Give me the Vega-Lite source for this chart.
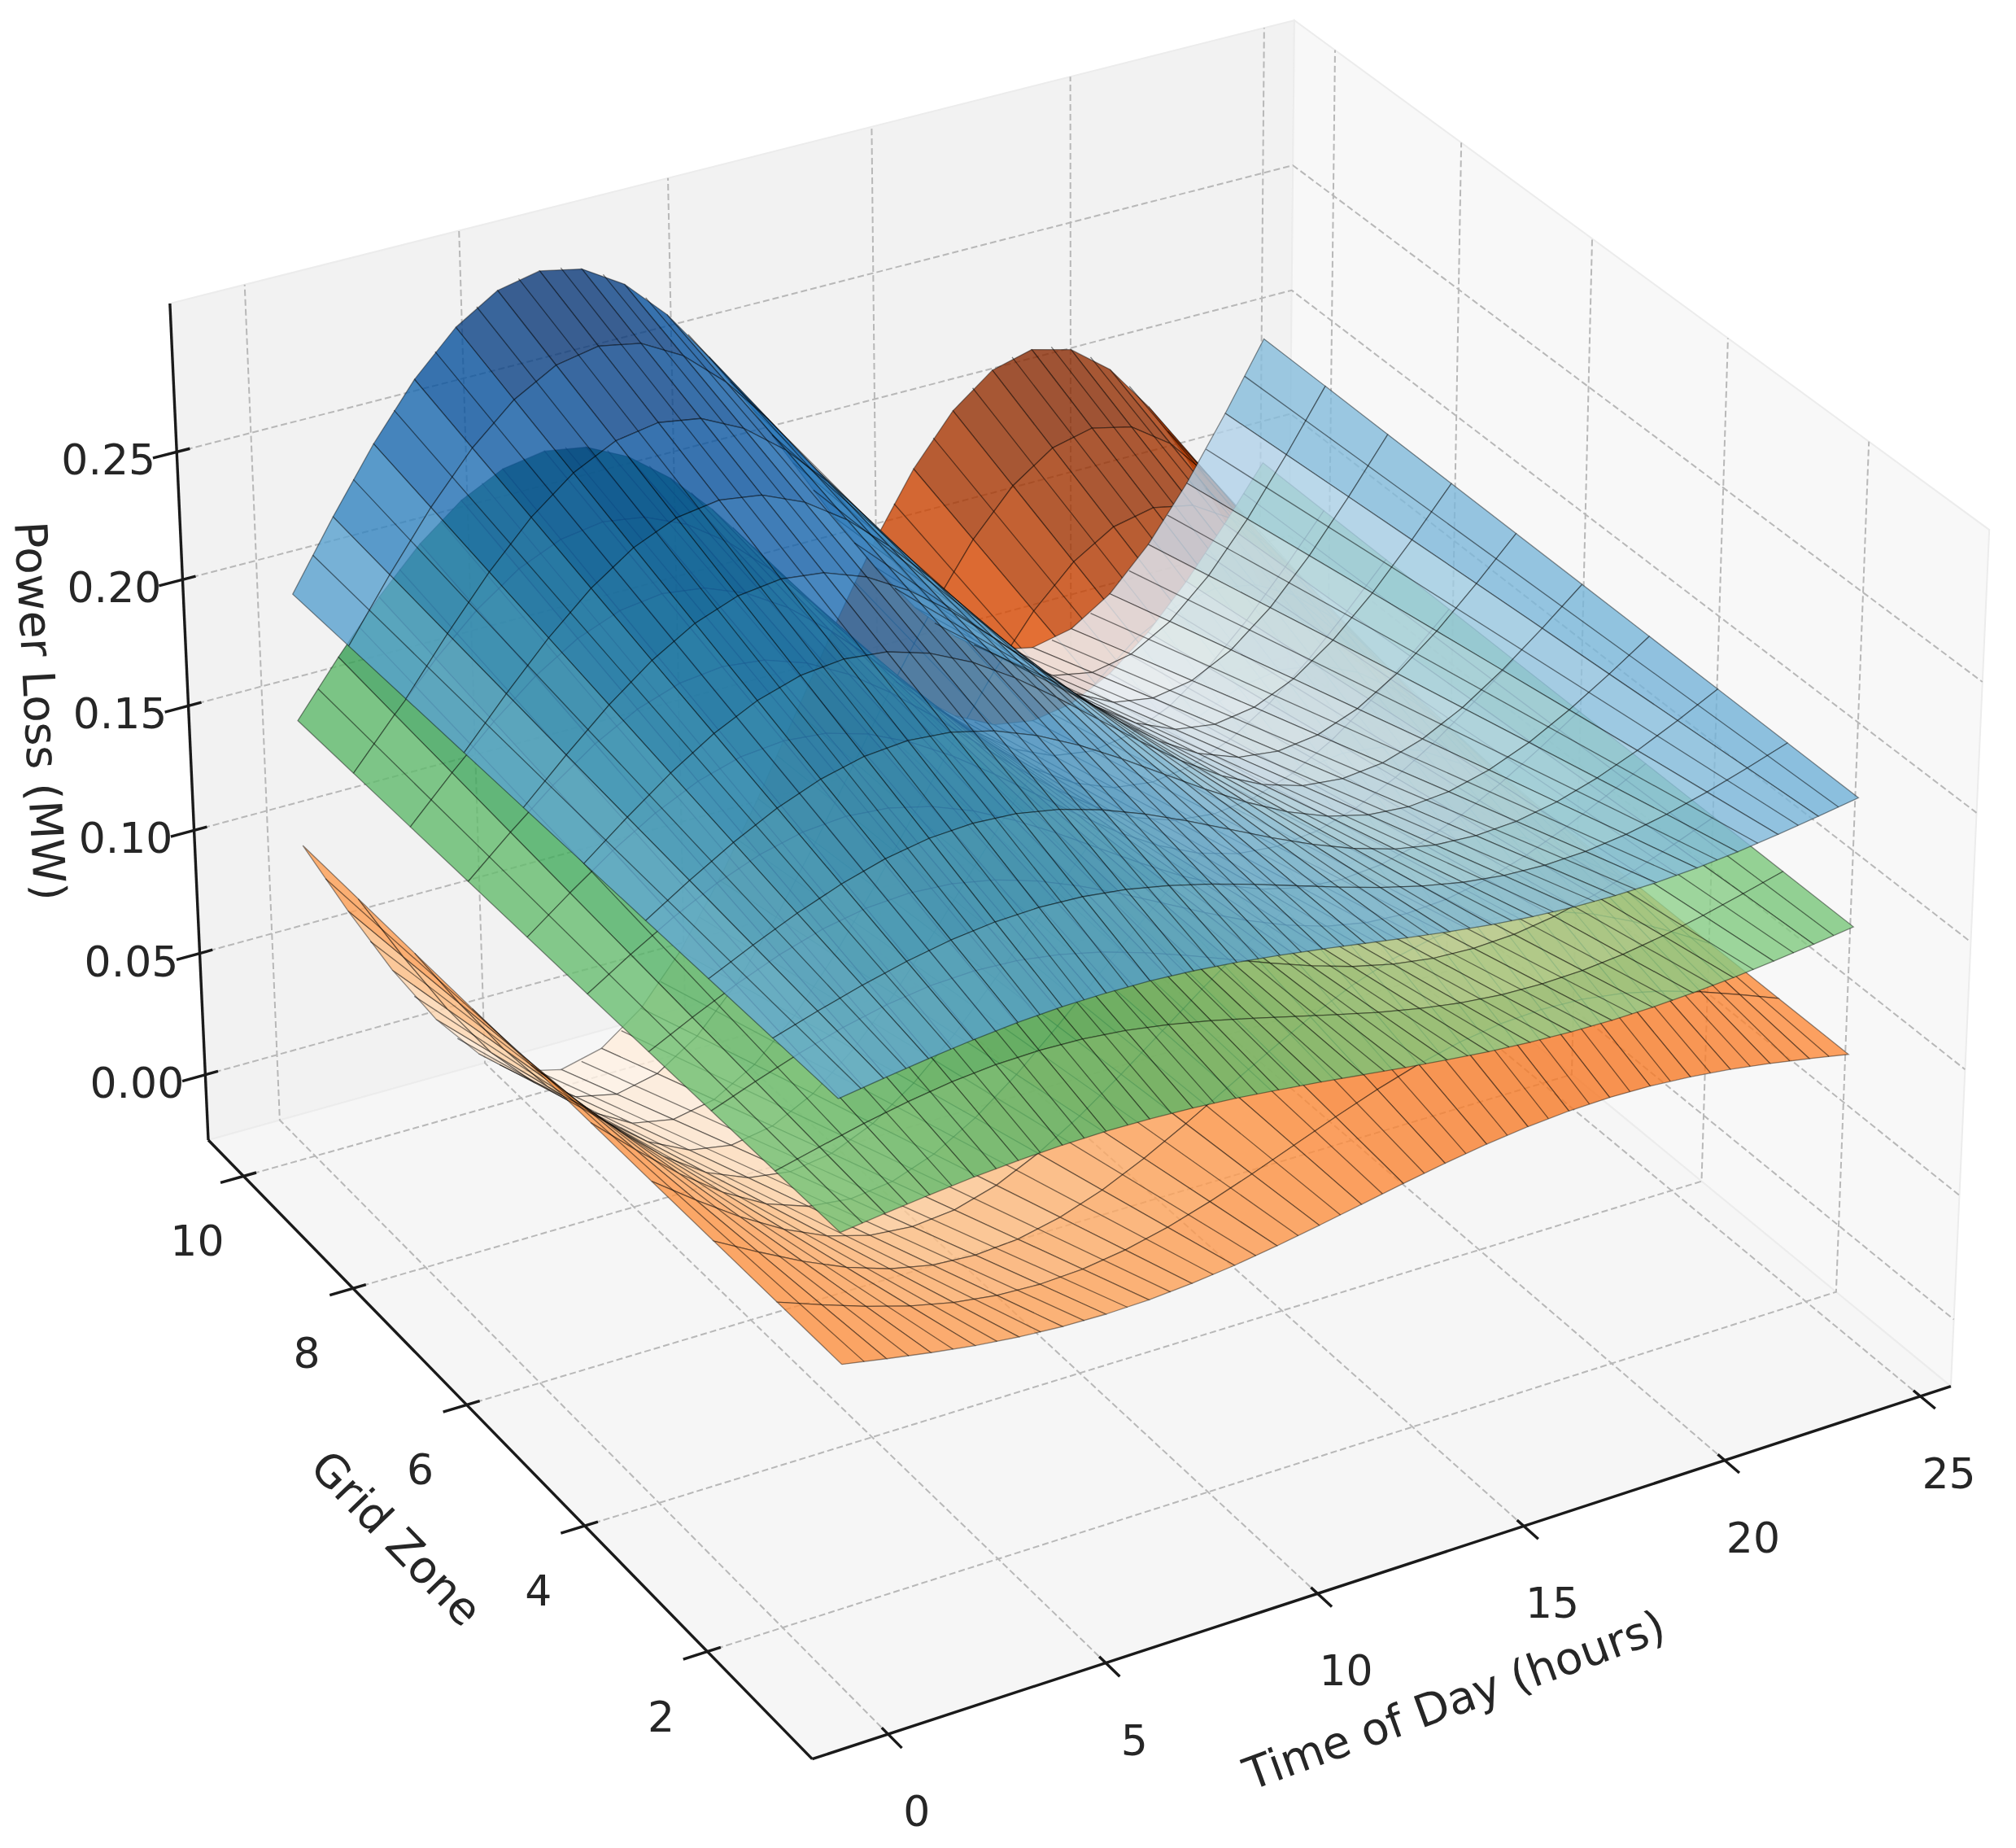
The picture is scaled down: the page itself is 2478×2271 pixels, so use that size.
{"$schema":"https://vega.github.io/schema/vega-lite/v6.json","width":2478,"height":2271,"autosize":{"type":"fit","contains":"padding"},"padding":0,"background":"white","config":{"view":{"stroke":null}},
"datasets":{
"panes":[{"p":"left","o":0,"t":-1.713,"z":10.66,"l":-0.02716},{"p":"left","o":1,"t":25.79,"z":10.66,"l":-0.02716},{"p":"left","o":2,"t":25.79,"z":10.66,"l":0.3073},{"p":"left","o":3,"t":-1.713,"z":10.66,"l":0.3073},{"p":"left","o":4,"t":-1.713,"z":10.66,"l":-0.02716},
{"p":"right","o":0,"t":25.79,"z":0.3505,"l":-0.02716},{"p":"right","o":1,"t":25.79,"z":10.66,"l":-0.02716},{"p":"right","o":2,"t":25.79,"z":10.66,"l":0.3073},{"p":"right","o":3,"t":25.79,"z":0.3505,"l":0.3073},{"p":"right","o":4,"t":25.79,"z":0.3505,"l":-0.02716},
{"p":"floor","o":0,"t":-1.713,"z":0.3505,"l":-0.02716},{"p":"floor","o":1,"t":25.79,"z":0.3505,"l":-0.02716},{"p":"floor","o":2,"t":25.79,"z":10.66,"l":-0.02716},{"p":"floor","o":3,"t":-1.713,"z":10.66,"l":-0.02716},{"p":"floor","o":4,"t":-1.713,"z":0.3505,"l":-0.02716}],
"grid":[{"id":"t0","o":0,"t":0,"z":0.3505,"l":-0.02716},{"id":"t0","o":1,"t":0,"z":10.66,"l":-0.02716},{"id":"t0","o":2,"t":0,"z":10.66,"l":0.3073},
{"id":"t5","o":0,"t":5,"z":0.3505,"l":-0.02716},{"id":"t5","o":1,"t":5,"z":10.66,"l":-0.02716},{"id":"t5","o":2,"t":5,"z":10.66,"l":0.3073},
{"id":"t10","o":0,"t":10,"z":0.3505,"l":-0.02716},{"id":"t10","o":1,"t":10,"z":10.66,"l":-0.02716},{"id":"t10","o":2,"t":10,"z":10.66,"l":0.3073},
{"id":"t15","o":0,"t":15,"z":0.3505,"l":-0.02716},{"id":"t15","o":1,"t":15,"z":10.66,"l":-0.02716},{"id":"t15","o":2,"t":15,"z":10.66,"l":0.3073},
{"id":"t20","o":0,"t":20,"z":0.3505,"l":-0.02716},{"id":"t20","o":1,"t":20,"z":10.66,"l":-0.02716},{"id":"t20","o":2,"t":20,"z":10.66,"l":0.3073},
{"id":"t25","o":0,"t":25,"z":0.3505,"l":-0.02716},{"id":"t25","o":1,"t":25,"z":10.66,"l":-0.02716},{"id":"t25","o":2,"t":25,"z":10.66,"l":0.3073},
{"id":"z2","o":0,"t":-1.713,"z":2,"l":-0.02716},{"id":"z2","o":1,"t":25.79,"z":2,"l":-0.02716},{"id":"z2","o":2,"t":25.79,"z":2,"l":0.3073},
{"id":"z4","o":0,"t":-1.713,"z":4,"l":-0.02716},{"id":"z4","o":1,"t":25.79,"z":4,"l":-0.02716},{"id":"z4","o":2,"t":25.79,"z":4,"l":0.3073},
{"id":"z6","o":0,"t":-1.713,"z":6,"l":-0.02716},{"id":"z6","o":1,"t":25.79,"z":6,"l":-0.02716},{"id":"z6","o":2,"t":25.79,"z":6,"l":0.3073},
{"id":"z8","o":0,"t":-1.713,"z":8,"l":-0.02716},{"id":"z8","o":1,"t":25.79,"z":8,"l":-0.02716},{"id":"z8","o":2,"t":25.79,"z":8,"l":0.3073},
{"id":"z10","o":0,"t":-1.713,"z":10,"l":-0.02716},{"id":"z10","o":1,"t":25.79,"z":10,"l":-0.02716},{"id":"z10","o":2,"t":25.79,"z":10,"l":0.3073},
{"id":"l0","o":0,"t":-1.713,"z":10.66,"l":0},{"id":"l0","o":1,"t":25.79,"z":10.66,"l":0},{"id":"l0","o":2,"t":25.79,"z":0.3505,"l":0},
{"id":"l5","o":0,"t":-1.713,"z":10.66,"l":0.05},{"id":"l5","o":1,"t":25.79,"z":10.66,"l":0.05},{"id":"l5","o":2,"t":25.79,"z":0.3505,"l":0.05},
{"id":"l10","o":0,"t":-1.713,"z":10.66,"l":0.1},{"id":"l10","o":1,"t":25.79,"z":10.66,"l":0.1},{"id":"l10","o":2,"t":25.79,"z":0.3505,"l":0.1},
{"id":"l15","o":0,"t":-1.713,"z":10.66,"l":0.15},{"id":"l15","o":1,"t":25.79,"z":10.66,"l":0.15},{"id":"l15","o":2,"t":25.79,"z":0.3505,"l":0.15},
{"id":"l20","o":0,"t":-1.713,"z":10.66,"l":0.2},{"id":"l20","o":1,"t":25.79,"z":10.66,"l":0.2},{"id":"l20","o":2,"t":25.79,"z":0.3505,"l":0.2},
{"id":"l25","o":0,"t":-1.713,"z":10.66,"l":0.25},{"id":"l25","o":1,"t":25.79,"z":10.66,"l":0.25},{"id":"l25","o":2,"t":25.79,"z":0.3505,"l":0.25}],
"spines":[{"id":"sx","o":0,"t":-1.713,"z":0.3505,"l":-0.02716},{"id":"sx","o":1,"t":25.79,"z":0.3505,"l":-0.02716},
{"id":"sz","o":0,"t":-1.713,"z":0.3505,"l":-0.02716},{"id":"sz","o":1,"t":-1.713,"z":10.66,"l":-0.02716},
{"id":"sl","o":0,"t":-1.713,"z":10.66,"l":-0.02716},{"id":"sl","o":1,"t":-1.713,"z":10.66,"l":0.3073},
{"id":"a0","o":0,"t":0,"z":0.14,"l":-0.02716},{"id":"a0","o":1,"t":0,"z":0.45,"l":-0.02716},
{"id":"a5","o":0,"t":5,"z":0.14,"l":-0.02716},{"id":"a5","o":1,"t":5,"z":0.45,"l":-0.02716},
{"id":"a10","o":0,"t":10,"z":0.14,"l":-0.02716},{"id":"a10","o":1,"t":10,"z":0.45,"l":-0.02716},
{"id":"a15","o":0,"t":15,"z":0.14,"l":-0.02716},{"id":"a15","o":1,"t":15,"z":0.45,"l":-0.02716},
{"id":"a20","o":0,"t":20,"z":0.14,"l":-0.02716},{"id":"a20","o":1,"t":20,"z":0.45,"l":-0.02716},
{"id":"a25","o":0,"t":25,"z":0.14,"l":-0.02716},{"id":"a25","o":1,"t":25,"z":0.45,"l":-0.02716},
{"id":"b2","o":0,"t":-2.26,"z":2,"l":-0.02716},{"id":"b2","o":1,"t":-1.41,"z":2,"l":-0.02716},
{"id":"b4","o":0,"t":-2.26,"z":4,"l":-0.02716},{"id":"b4","o":1,"t":-1.41,"z":4,"l":-0.02716},
{"id":"b6","o":0,"t":-2.26,"z":6,"l":-0.02716},{"id":"b6","o":1,"t":-1.41,"z":6,"l":-0.02716},
{"id":"b8","o":0,"t":-2.26,"z":8,"l":-0.02716},{"id":"b8","o":1,"t":-1.41,"z":8,"l":-0.02716},
{"id":"b10","o":0,"t":-2.26,"z":10,"l":-0.02716},{"id":"b10","o":1,"t":-1.41,"z":10,"l":-0.02716},
{"id":"c0","o":0,"t":-2.26,"z":10.66,"l":0},{"id":"c0","o":1,"t":-1.41,"z":10.66,"l":0},
{"id":"c5","o":0,"t":-2.26,"z":10.66,"l":0.05},{"id":"c5","o":1,"t":-1.41,"z":10.66,"l":0.05},
{"id":"c10","o":0,"t":-2.26,"z":10.66,"l":0.1},{"id":"c10","o":1,"t":-1.41,"z":10.66,"l":0.1},
{"id":"c15","o":0,"t":-2.26,"z":10.66,"l":0.15},{"id":"c15","o":1,"t":-1.41,"z":10.66,"l":0.15},
{"id":"c20","o":0,"t":-2.26,"z":10.66,"l":0.2},{"id":"c20","o":1,"t":-1.41,"z":10.66,"l":0.2},
{"id":"c25","o":0,"t":-2.26,"z":10.66,"l":0.25},{"id":"c25","o":1,"t":-1.41,"z":10.66,"l":0.25}],
"tl":[{"a":"t","s":"0","t":0,"z":0.3505,"l":-0.02716},{"a":"t","s":"5","t":5,"z":0.3505,"l":-0.02716},{"a":"t","s":"10","t":10,"z":0.3505,"l":-0.02716},{"a":"t","s":"15","t":15,"z":0.3505,"l":-0.02716},{"a":"t","s":"20","t":20,"z":0.3505,"l":-0.02716},{"a":"t","s":"25","t":25,"z":0.3505,"l":-0.02716},
{"a":"z","s":"2","t":-1.713,"z":2,"l":-0.02716},{"a":"z","s":"4","t":-1.713,"z":4,"l":-0.02716},{"a":"z","s":"6","t":-1.713,"z":6,"l":-0.02716},{"a":"z","s":"8","t":-1.713,"z":8,"l":-0.02716},{"a":"z","s":"10","t":-1.713,"z":10,"l":-0.02716},
{"a":"l","s":"0.00","t":-1.713,"z":10.66,"l":0},{"a":"l","s":"0.05","t":-1.713,"z":10.66,"l":0.05},{"a":"l","s":"0.10","t":-1.713,"z":10.66,"l":0.1},{"a":"l","s":"0.15","t":-1.713,"z":10.66,"l":0.15},{"a":"l","s":"0.20","t":-1.713,"z":10.66,"l":0.2},{"a":"l","s":"0.25","t":-1.713,"z":10.66,"l":0.25},
{"a":"T","s":"Time of Day (hours)","t":12.5,"z":0.3505,"l":-0.02716},{"a":"Z","s":"Grid Zone","t":-1.713,"z":6,"l":-0.02716},{"a":"L","s":"Power Loss (MW)","t":-1.713,"z":10.66,"l":0.125}],
"b":[
{"t":24,"z":10,"l":0.2},{"t":23,"z":10,"l":0.1741},{"t":22,"z":10,"l":0.15},{"t":21,"z":10,"l":0.1293},{"t":20,"z":10,"l":0.1134},{"t":19,"z":10,"l":0.1034},{"t":18,"z":10,"l":0.1},{"t":17,"z":10,"l":0.1034},{"t":16,"z":10,"l":0.1134},{"t":15,"z":10,"l":0.1293},{"t":14,"z":10,"l":0.15},{"t":13,"z":10,"l":0.1741},{"t":12,"z":10,"l":0.2},{"t":11,"z":10,"l":0.2259},{"t":10,"z":10,"l":0.25},{"t":9,"z":10,"l":0.2707},{"t":8,"z":10,"l":0.2866},{"t":7,"z":10,"l":0.2966},{"t":6,"z":10,"l":0.3},{"t":5,"z":10,"l":0.2966},{"t":4,"z":10,"l":0.2866},{"t":3,"z":10,"l":0.2707},{"t":2,"z":10,"l":0.25},{"t":1,"z":10,"l":0.2259},{"t":0,"z":10,"l":0.2},
{"t":24,"z":9,"l":0.2},{"t":23,"z":9,"l":0.1767},{"t":22,"z":9,"l":0.155},{"t":21,"z":9,"l":0.1364},{"t":20,"z":9,"l":0.1221},{"t":19,"z":9,"l":0.1131},{"t":18,"z":9,"l":0.11},{"t":17,"z":9,"l":0.1131},{"t":16,"z":9,"l":0.1221},{"t":15,"z":9,"l":0.1364},{"t":14,"z":9,"l":0.155},{"t":13,"z":9,"l":0.1767},{"t":12,"z":9,"l":0.2},{"t":11,"z":9,"l":0.2233},{"t":10,"z":9,"l":0.245},{"t":9,"z":9,"l":0.2636},{"t":8,"z":9,"l":0.2779},{"t":7,"z":9,"l":0.2869},{"t":6,"z":9,"l":0.29},{"t":5,"z":9,"l":0.2869},{"t":4,"z":9,"l":0.2779},{"t":3,"z":9,"l":0.2636},{"t":2,"z":9,"l":0.245},{"t":1,"z":9,"l":0.2233},{"t":0,"z":9,"l":0.2},
{"t":24,"z":8,"l":0.2},{"t":23,"z":8,"l":0.1793},{"t":22,"z":8,"l":0.16},{"t":21,"z":8,"l":0.1434},{"t":20,"z":8,"l":0.1307},{"t":19,"z":8,"l":0.1227},{"t":18,"z":8,"l":0.12},{"t":17,"z":8,"l":0.1227},{"t":16,"z":8,"l":0.1307},{"t":15,"z":8,"l":0.1434},{"t":14,"z":8,"l":0.16},{"t":13,"z":8,"l":0.1793},{"t":12,"z":8,"l":0.2},{"t":11,"z":8,"l":0.2207},{"t":10,"z":8,"l":0.24},{"t":9,"z":8,"l":0.2566},{"t":8,"z":8,"l":0.2693},{"t":7,"z":8,"l":0.2773},{"t":6,"z":8,"l":0.28},{"t":5,"z":8,"l":0.2773},{"t":4,"z":8,"l":0.2693},{"t":3,"z":8,"l":0.2566},{"t":2,"z":8,"l":0.24},{"t":1,"z":8,"l":0.2207},{"t":0,"z":8,"l":0.2},
{"t":24,"z":7,"l":0.2},{"t":23,"z":7,"l":0.1819},{"t":22,"z":7,"l":0.165},{"t":21,"z":7,"l":0.1505},{"t":20,"z":7,"l":0.1394},{"t":19,"z":7,"l":0.1324},{"t":18,"z":7,"l":0.13},{"t":17,"z":7,"l":0.1324},{"t":16,"z":7,"l":0.1394},{"t":15,"z":7,"l":0.1505},{"t":14,"z":7,"l":0.165},{"t":13,"z":7,"l":0.1819},{"t":12,"z":7,"l":0.2},{"t":11,"z":7,"l":0.2181},{"t":10,"z":7,"l":0.235},{"t":9,"z":7,"l":0.2495},{"t":8,"z":7,"l":0.2606},{"t":7,"z":7,"l":0.2676},{"t":6,"z":7,"l":0.27},{"t":5,"z":7,"l":0.2676},{"t":4,"z":7,"l":0.2606},{"t":3,"z":7,"l":0.2495},{"t":2,"z":7,"l":0.235},{"t":1,"z":7,"l":0.2181},{"t":0,"z":7,"l":0.2},
{"t":24,"z":6,"l":0.2},{"t":23,"z":6,"l":0.1845},{"t":22,"z":6,"l":0.17},{"t":21,"z":6,"l":0.1576},{"t":20,"z":6,"l":0.148},{"t":19,"z":6,"l":0.142},{"t":18,"z":6,"l":0.14},{"t":17,"z":6,"l":0.142},{"t":16,"z":6,"l":0.148},{"t":15,"z":6,"l":0.1576},{"t":14,"z":6,"l":0.17},{"t":13,"z":6,"l":0.1845},{"t":12,"z":6,"l":0.2},{"t":11,"z":6,"l":0.2155},{"t":10,"z":6,"l":0.23},{"t":9,"z":6,"l":0.2424},{"t":8,"z":6,"l":0.252},{"t":7,"z":6,"l":0.258},{"t":6,"z":6,"l":0.26},{"t":5,"z":6,"l":0.258},{"t":4,"z":6,"l":0.252},{"t":3,"z":6,"l":0.2424},{"t":2,"z":6,"l":0.23},{"t":1,"z":6,"l":0.2155},{"t":0,"z":6,"l":0.2},
{"t":24,"z":5,"l":0.2},{"t":23,"z":5,"l":0.1871},{"t":22,"z":5,"l":0.175},{"t":21,"z":5,"l":0.1646},{"t":20,"z":5,"l":0.1567},{"t":19,"z":5,"l":0.1517},{"t":18,"z":5,"l":0.15},{"t":17,"z":5,"l":0.1517},{"t":16,"z":5,"l":0.1567},{"t":15,"z":5,"l":0.1646},{"t":14,"z":5,"l":0.175},{"t":13,"z":5,"l":0.1871},{"t":12,"z":5,"l":0.2},{"t":11,"z":5,"l":0.2129},{"t":10,"z":5,"l":0.225},{"t":9,"z":5,"l":0.2354},{"t":8,"z":5,"l":0.2433},{"t":7,"z":5,"l":0.2483},{"t":6,"z":5,"l":0.25},{"t":5,"z":5,"l":0.2483},{"t":4,"z":5,"l":0.2433},{"t":3,"z":5,"l":0.2354},{"t":2,"z":5,"l":0.225},{"t":1,"z":5,"l":0.2129},{"t":0,"z":5,"l":0.2},
{"t":24,"z":4,"l":0.2},{"t":23,"z":4,"l":0.1896},{"t":22,"z":4,"l":0.18},{"t":21,"z":4,"l":0.1717},{"t":20,"z":4,"l":0.1654},{"t":19,"z":4,"l":0.1614},{"t":18,"z":4,"l":0.16},{"t":17,"z":4,"l":0.1614},{"t":16,"z":4,"l":0.1654},{"t":15,"z":4,"l":0.1717},{"t":14,"z":4,"l":0.18},{"t":13,"z":4,"l":0.1896},{"t":12,"z":4,"l":0.2},{"t":11,"z":4,"l":0.2104},{"t":10,"z":4,"l":0.22},{"t":9,"z":4,"l":0.2283},{"t":8,"z":4,"l":0.2346},{"t":7,"z":4,"l":0.2386},{"t":6,"z":4,"l":0.24},{"t":5,"z":4,"l":0.2386},{"t":4,"z":4,"l":0.2346},{"t":3,"z":4,"l":0.2283},{"t":2,"z":4,"l":0.22},{"t":1,"z":4,"l":0.2104},{"t":0,"z":4,"l":0.2},
{"t":24,"z":3,"l":0.2},{"t":23,"z":3,"l":0.1922},{"t":22,"z":3,"l":0.185},{"t":21,"z":3,"l":0.1788},{"t":20,"z":3,"l":0.174},{"t":19,"z":3,"l":0.171},{"t":18,"z":3,"l":0.17},{"t":17,"z":3,"l":0.171},{"t":16,"z":3,"l":0.174},{"t":15,"z":3,"l":0.1788},{"t":14,"z":3,"l":0.185},{"t":13,"z":3,"l":0.1922},{"t":12,"z":3,"l":0.2},{"t":11,"z":3,"l":0.2078},{"t":10,"z":3,"l":0.215},{"t":9,"z":3,"l":0.2212},{"t":8,"z":3,"l":0.226},{"t":7,"z":3,"l":0.229},{"t":6,"z":3,"l":0.23},{"t":5,"z":3,"l":0.229},{"t":4,"z":3,"l":0.226},{"t":3,"z":3,"l":0.2212},{"t":2,"z":3,"l":0.215},{"t":1,"z":3,"l":0.2078},{"t":0,"z":3,"l":0.2},
{"t":24,"z":2,"l":0.2},{"t":23,"z":2,"l":0.1948},{"t":22,"z":2,"l":0.19},{"t":21,"z":2,"l":0.1859},{"t":20,"z":2,"l":0.1827},{"t":19,"z":2,"l":0.1807},{"t":18,"z":2,"l":0.18},{"t":17,"z":2,"l":0.1807},{"t":16,"z":2,"l":0.1827},{"t":15,"z":2,"l":0.1859},{"t":14,"z":2,"l":0.19},{"t":13,"z":2,"l":0.1948},{"t":12,"z":2,"l":0.2},{"t":11,"z":2,"l":0.2052},{"t":10,"z":2,"l":0.21},{"t":9,"z":2,"l":0.2141},{"t":8,"z":2,"l":0.2173},{"t":7,"z":2,"l":0.2193},{"t":6,"z":2,"l":0.22},{"t":5,"z":2,"l":0.2193},{"t":4,"z":2,"l":0.2173},{"t":3,"z":2,"l":0.2141},{"t":2,"z":2,"l":0.21},{"t":1,"z":2,"l":0.2052},{"t":0,"z":2,"l":0.2},
{"t":24,"z":1,"l":0.2},{"t":23,"z":1,"l":0.1974},{"t":22,"z":1,"l":0.195},{"t":21,"z":1,"l":0.1929},{"t":20,"z":1,"l":0.1913},{"t":19,"z":1,"l":0.1903},{"t":18,"z":1,"l":0.19},{"t":17,"z":1,"l":0.1903},{"t":16,"z":1,"l":0.1913},{"t":15,"z":1,"l":0.1929},{"t":14,"z":1,"l":0.195},{"t":13,"z":1,"l":0.1974},{"t":12,"z":1,"l":0.2},{"t":11,"z":1,"l":0.2026},{"t":10,"z":1,"l":0.205},{"t":9,"z":1,"l":0.2071},{"t":8,"z":1,"l":0.2087},{"t":7,"z":1,"l":0.2097},{"t":6,"z":1,"l":0.21},{"t":5,"z":1,"l":0.2097},{"t":4,"z":1,"l":0.2087},{"t":3,"z":1,"l":0.2071},{"t":2,"z":1,"l":0.205},{"t":1,"z":1,"l":0.2026},{"t":0,"z":1,"l":0.2}],
"g":[
{"t":24,"z":10,"l":0.15},{"t":23,"z":10,"l":0.1293},{"t":22,"z":10,"l":0.11},{"t":21,"z":10,"l":0.0934},{"t":20,"z":10,"l":0.0807},{"t":19,"z":10,"l":0.0727},{"t":18,"z":10,"l":0.07},{"t":17,"z":10,"l":0.0727},{"t":16,"z":10,"l":0.0807},{"t":15,"z":10,"l":0.0934},{"t":14,"z":10,"l":0.11},{"t":13,"z":10,"l":0.1293},{"t":12,"z":10,"l":0.15},{"t":11,"z":10,"l":0.1707},{"t":10,"z":10,"l":0.19},{"t":9,"z":10,"l":0.2066},{"t":8,"z":10,"l":0.2193},{"t":7,"z":10,"l":0.2273},{"t":6,"z":10,"l":0.23},{"t":5,"z":10,"l":0.2273},{"t":4,"z":10,"l":0.2193},{"t":3,"z":10,"l":0.2066},{"t":2,"z":10,"l":0.19},{"t":1,"z":10,"l":0.1707},{"t":0,"z":10,"l":0.15},
{"t":24,"z":9,"l":0.15},{"t":23,"z":9,"l":0.1314},{"t":22,"z":9,"l":0.114},{"t":21,"z":9,"l":0.0991},{"t":20,"z":9,"l":0.0876},{"t":19,"z":9,"l":0.0805},{"t":18,"z":9,"l":0.078},{"t":17,"z":9,"l":0.0805},{"t":16,"z":9,"l":0.0876},{"t":15,"z":9,"l":0.0991},{"t":14,"z":9,"l":0.114},{"t":13,"z":9,"l":0.1314},{"t":12,"z":9,"l":0.15},{"t":11,"z":9,"l":0.1686},{"t":10,"z":9,"l":0.186},{"t":9,"z":9,"l":0.2009},{"t":8,"z":9,"l":0.2124},{"t":7,"z":9,"l":0.2195},{"t":6,"z":9,"l":0.222},{"t":5,"z":9,"l":0.2195},{"t":4,"z":9,"l":0.2124},{"t":3,"z":9,"l":0.2009},{"t":2,"z":9,"l":0.186},{"t":1,"z":9,"l":0.1686},{"t":0,"z":9,"l":0.15},
{"t":24,"z":8,"l":0.15},{"t":23,"z":8,"l":0.1334},{"t":22,"z":8,"l":0.118},{"t":21,"z":8,"l":0.1047},{"t":20,"z":8,"l":0.0946},{"t":19,"z":8,"l":0.0882},{"t":18,"z":8,"l":0.086},{"t":17,"z":8,"l":0.0882},{"t":16,"z":8,"l":0.0946},{"t":15,"z":8,"l":0.1047},{"t":14,"z":8,"l":0.118},{"t":13,"z":8,"l":0.1334},{"t":12,"z":8,"l":0.15},{"t":11,"z":8,"l":0.1666},{"t":10,"z":8,"l":0.182},{"t":9,"z":8,"l":0.1953},{"t":8,"z":8,"l":0.2054},{"t":7,"z":8,"l":0.2118},{"t":6,"z":8,"l":0.214},{"t":5,"z":8,"l":0.2118},{"t":4,"z":8,"l":0.2054},{"t":3,"z":8,"l":0.1953},{"t":2,"z":8,"l":0.182},{"t":1,"z":8,"l":0.1666},{"t":0,"z":8,"l":0.15},
{"t":24,"z":7,"l":0.15},{"t":23,"z":7,"l":0.1355},{"t":22,"z":7,"l":0.122},{"t":21,"z":7,"l":0.1104},{"t":20,"z":7,"l":0.1015},{"t":19,"z":7,"l":0.0959},{"t":18,"z":7,"l":0.094},{"t":17,"z":7,"l":0.0959},{"t":16,"z":7,"l":0.1015},{"t":15,"z":7,"l":0.1104},{"t":14,"z":7,"l":0.122},{"t":13,"z":7,"l":0.1355},{"t":12,"z":7,"l":0.15},{"t":11,"z":7,"l":0.1645},{"t":10,"z":7,"l":0.178},{"t":9,"z":7,"l":0.1896},{"t":8,"z":7,"l":0.1985},{"t":7,"z":7,"l":0.2041},{"t":6,"z":7,"l":0.206},{"t":5,"z":7,"l":0.2041},{"t":4,"z":7,"l":0.1985},{"t":3,"z":7,"l":0.1896},{"t":2,"z":7,"l":0.178},{"t":1,"z":7,"l":0.1645},{"t":0,"z":7,"l":0.15},
{"t":24,"z":6,"l":0.15},{"t":23,"z":6,"l":0.1376},{"t":22,"z":6,"l":0.126},{"t":21,"z":6,"l":0.1161},{"t":20,"z":6,"l":0.1084},{"t":19,"z":6,"l":0.1036},{"t":18,"z":6,"l":0.102},{"t":17,"z":6,"l":0.1036},{"t":16,"z":6,"l":0.1084},{"t":15,"z":6,"l":0.1161},{"t":14,"z":6,"l":0.126},{"t":13,"z":6,"l":0.1376},{"t":12,"z":6,"l":0.15},{"t":11,"z":6,"l":0.1624},{"t":10,"z":6,"l":0.174},{"t":9,"z":6,"l":0.1839},{"t":8,"z":6,"l":0.1916},{"t":7,"z":6,"l":0.1964},{"t":6,"z":6,"l":0.198},{"t":5,"z":6,"l":0.1964},{"t":4,"z":6,"l":0.1916},{"t":3,"z":6,"l":0.1839},{"t":2,"z":6,"l":0.174},{"t":1,"z":6,"l":0.1624},{"t":0,"z":6,"l":0.15},
{"t":24,"z":5,"l":0.15},{"t":23,"z":5,"l":0.1396},{"t":22,"z":5,"l":0.13},{"t":21,"z":5,"l":0.1217},{"t":20,"z":5,"l":0.1154},{"t":19,"z":5,"l":0.1114},{"t":18,"z":5,"l":0.11},{"t":17,"z":5,"l":0.1114},{"t":16,"z":5,"l":0.1154},{"t":15,"z":5,"l":0.1217},{"t":14,"z":5,"l":0.13},{"t":13,"z":5,"l":0.1396},{"t":12,"z":5,"l":0.15},{"t":11,"z":5,"l":0.1604},{"t":10,"z":5,"l":0.17},{"t":9,"z":5,"l":0.1783},{"t":8,"z":5,"l":0.1846},{"t":7,"z":5,"l":0.1886},{"t":6,"z":5,"l":0.19},{"t":5,"z":5,"l":0.1886},{"t":4,"z":5,"l":0.1846},{"t":3,"z":5,"l":0.1783},{"t":2,"z":5,"l":0.17},{"t":1,"z":5,"l":0.1604},{"t":0,"z":5,"l":0.15},
{"t":24,"z":4,"l":0.15},{"t":23,"z":4,"l":0.1417},{"t":22,"z":4,"l":0.134},{"t":21,"z":4,"l":0.1274},{"t":20,"z":4,"l":0.1223},{"t":19,"z":4,"l":0.1191},{"t":18,"z":4,"l":0.118},{"t":17,"z":4,"l":0.1191},{"t":16,"z":4,"l":0.1223},{"t":15,"z":4,"l":0.1274},{"t":14,"z":4,"l":0.134},{"t":13,"z":4,"l":0.1417},{"t":12,"z":4,"l":0.15},{"t":11,"z":4,"l":0.1583},{"t":10,"z":4,"l":0.166},{"t":9,"z":4,"l":0.1726},{"t":8,"z":4,"l":0.1777},{"t":7,"z":4,"l":0.1809},{"t":6,"z":4,"l":0.182},{"t":5,"z":4,"l":0.1809},{"t":4,"z":4,"l":0.1777},{"t":3,"z":4,"l":0.1726},{"t":2,"z":4,"l":0.166},{"t":1,"z":4,"l":0.1583},{"t":0,"z":4,"l":0.15},
{"t":24,"z":3,"l":0.15},{"t":23,"z":3,"l":0.1438},{"t":22,"z":3,"l":0.138},{"t":21,"z":3,"l":0.133},{"t":20,"z":3,"l":0.1292},{"t":19,"z":3,"l":0.1268},{"t":18,"z":3,"l":0.126},{"t":17,"z":3,"l":0.1268},{"t":16,"z":3,"l":0.1292},{"t":15,"z":3,"l":0.133},{"t":14,"z":3,"l":0.138},{"t":13,"z":3,"l":0.1438},{"t":12,"z":3,"l":0.15},{"t":11,"z":3,"l":0.1562},{"t":10,"z":3,"l":0.162},{"t":9,"z":3,"l":0.167},{"t":8,"z":3,"l":0.1708},{"t":7,"z":3,"l":0.1732},{"t":6,"z":3,"l":0.174},{"t":5,"z":3,"l":0.1732},{"t":4,"z":3,"l":0.1708},{"t":3,"z":3,"l":0.167},{"t":2,"z":3,"l":0.162},{"t":1,"z":3,"l":0.1562},{"t":0,"z":3,"l":0.15},
{"t":24,"z":2,"l":0.15},{"t":23,"z":2,"l":0.1459},{"t":22,"z":2,"l":0.142},{"t":21,"z":2,"l":0.1387},{"t":20,"z":2,"l":0.1361},{"t":19,"z":2,"l":0.1345},{"t":18,"z":2,"l":0.134},{"t":17,"z":2,"l":0.1345},{"t":16,"z":2,"l":0.1361},{"t":15,"z":2,"l":0.1387},{"t":14,"z":2,"l":0.142},{"t":13,"z":2,"l":0.1459},{"t":12,"z":2,"l":0.15},{"t":11,"z":2,"l":0.1541},{"t":10,"z":2,"l":0.158},{"t":9,"z":2,"l":0.1613},{"t":8,"z":2,"l":0.1639},{"t":7,"z":2,"l":0.1655},{"t":6,"z":2,"l":0.166},{"t":5,"z":2,"l":0.1655},{"t":4,"z":2,"l":0.1639},{"t":3,"z":2,"l":0.1613},{"t":2,"z":2,"l":0.158},{"t":1,"z":2,"l":0.1541},{"t":0,"z":2,"l":0.15},
{"t":24,"z":1,"l":0.15},{"t":23,"z":1,"l":0.1479},{"t":22,"z":1,"l":0.146},{"t":21,"z":1,"l":0.1443},{"t":20,"z":1,"l":0.1431},{"t":19,"z":1,"l":0.1423},{"t":18,"z":1,"l":0.142},{"t":17,"z":1,"l":0.1423},{"t":16,"z":1,"l":0.1431},{"t":15,"z":1,"l":0.1443},{"t":14,"z":1,"l":0.146},{"t":13,"z":1,"l":0.1479},{"t":12,"z":1,"l":0.15},{"t":11,"z":1,"l":0.1521},{"t":10,"z":1,"l":0.154},{"t":9,"z":1,"l":0.1557},{"t":8,"z":1,"l":0.1569},{"t":7,"z":1,"l":0.1577},{"t":6,"z":1,"l":0.158},{"t":5,"z":1,"l":0.1577},{"t":4,"z":1,"l":0.1569},{"t":3,"z":1,"l":0.1557},{"t":2,"z":1,"l":0.154},{"t":1,"z":1,"l":0.1521},{"t":0,"z":1,"l":0.15}],
"r":[
{"t":24,"z":10,"l":0.1},{"t":23,"z":10,"l":0.1311},{"t":22,"z":10,"l":0.16},{"t":21,"z":10,"l":0.1849},{"t":20,"z":10,"l":0.2039},{"t":19,"z":10,"l":0.2159},{"t":18,"z":10,"l":0.22},{"t":17,"z":10,"l":0.2159},{"t":16,"z":10,"l":0.2039},{"t":15,"z":10,"l":0.1849},{"t":14,"z":10,"l":0.16},{"t":13,"z":10,"l":0.1311},{"t":12,"z":10,"l":0.1},{"t":11,"z":10,"l":0.0689},{"t":10,"z":10,"l":0.04},{"t":9,"z":10,"l":0.0151},{"t":8,"z":10,"l":-0.0039},{"t":7,"z":10,"l":-0.0159},{"t":6,"z":10,"l":-0.02},{"t":5,"z":10,"l":-0.0159},{"t":4,"z":10,"l":-0.0039},{"t":3,"z":10,"l":0.0151},{"t":2,"z":10,"l":0.04},{"t":1,"z":10,"l":0.0689},{"t":0,"z":10,"l":0.1},
{"t":24,"z":9,"l":0.1},{"t":23,"z":9,"l":0.128},{"t":22,"z":9,"l":0.154},{"t":21,"z":9,"l":0.1764},{"t":20,"z":9,"l":0.1935},{"t":19,"z":9,"l":0.2043},{"t":18,"z":9,"l":0.208},{"t":17,"z":9,"l":0.2043},{"t":16,"z":9,"l":0.1935},{"t":15,"z":9,"l":0.1764},{"t":14,"z":9,"l":0.154},{"t":13,"z":9,"l":0.128},{"t":12,"z":9,"l":0.1},{"t":11,"z":9,"l":0.072},{"t":10,"z":9,"l":0.046},{"t":9,"z":9,"l":0.0236},{"t":8,"z":9,"l":0.0065},{"t":7,"z":9,"l":-0.0043},{"t":6,"z":9,"l":-0.008},{"t":5,"z":9,"l":-0.0043},{"t":4,"z":9,"l":0.0065},{"t":3,"z":9,"l":0.0236},{"t":2,"z":9,"l":0.046},{"t":1,"z":9,"l":0.072},{"t":0,"z":9,"l":0.1},
{"t":24,"z":8,"l":0.1},{"t":23,"z":8,"l":0.1248},{"t":22,"z":8,"l":0.148},{"t":21,"z":8,"l":0.1679},{"t":20,"z":8,"l":0.1831},{"t":19,"z":8,"l":0.1927},{"t":18,"z":8,"l":0.196},{"t":17,"z":8,"l":0.1927},{"t":16,"z":8,"l":0.1831},{"t":15,"z":8,"l":0.1679},{"t":14,"z":8,"l":0.148},{"t":13,"z":8,"l":0.1248},{"t":12,"z":8,"l":0.1},{"t":11,"z":8,"l":0.0752},{"t":10,"z":8,"l":0.052},{"t":9,"z":8,"l":0.0321},{"t":8,"z":8,"l":0.0169},{"t":7,"z":8,"l":0.0073},{"t":6,"z":8,"l":0.004},{"t":5,"z":8,"l":0.0073},{"t":4,"z":8,"l":0.0169},{"t":3,"z":8,"l":0.0321},{"t":2,"z":8,"l":0.052},{"t":1,"z":8,"l":0.0752},{"t":0,"z":8,"l":0.1},
{"t":24,"z":7,"l":0.1},{"t":23,"z":7,"l":0.1217},{"t":22,"z":7,"l":0.142},{"t":21,"z":7,"l":0.1594},{"t":20,"z":7,"l":0.1727},{"t":19,"z":7,"l":0.1811},{"t":18,"z":7,"l":0.184},{"t":17,"z":7,"l":0.1811},{"t":16,"z":7,"l":0.1727},{"t":15,"z":7,"l":0.1594},{"t":14,"z":7,"l":0.142},{"t":13,"z":7,"l":0.1217},{"t":12,"z":7,"l":0.1},{"t":11,"z":7,"l":0.0783},{"t":10,"z":7,"l":0.058},{"t":9,"z":7,"l":0.0406},{"t":8,"z":7,"l":0.0273},{"t":7,"z":7,"l":0.0189},{"t":6,"z":7,"l":0.016},{"t":5,"z":7,"l":0.0189},{"t":4,"z":7,"l":0.0273},{"t":3,"z":7,"l":0.0406},{"t":2,"z":7,"l":0.058},{"t":1,"z":7,"l":0.0783},{"t":0,"z":7,"l":0.1},
{"t":24,"z":6,"l":0.1},{"t":23,"z":6,"l":0.1186},{"t":22,"z":6,"l":0.136},{"t":21,"z":6,"l":0.1509},{"t":20,"z":6,"l":0.1624},{"t":19,"z":6,"l":0.1695},{"t":18,"z":6,"l":0.172},{"t":17,"z":6,"l":0.1695},{"t":16,"z":6,"l":0.1624},{"t":15,"z":6,"l":0.1509},{"t":14,"z":6,"l":0.136},{"t":13,"z":6,"l":0.1186},{"t":12,"z":6,"l":0.1},{"t":11,"z":6,"l":0.0814},{"t":10,"z":6,"l":0.064},{"t":9,"z":6,"l":0.0491},{"t":8,"z":6,"l":0.0376},{"t":7,"z":6,"l":0.0305},{"t":6,"z":6,"l":0.028},{"t":5,"z":6,"l":0.0305},{"t":4,"z":6,"l":0.0376},{"t":3,"z":6,"l":0.0491},{"t":2,"z":6,"l":0.064},{"t":1,"z":6,"l":0.0814},{"t":0,"z":6,"l":0.1},
{"t":24,"z":5,"l":0.1},{"t":23,"z":5,"l":0.1155},{"t":22,"z":5,"l":0.13},{"t":21,"z":5,"l":0.1424},{"t":20,"z":5,"l":0.152},{"t":19,"z":5,"l":0.158},{"t":18,"z":5,"l":0.16},{"t":17,"z":5,"l":0.158},{"t":16,"z":5,"l":0.152},{"t":15,"z":5,"l":0.1424},{"t":14,"z":5,"l":0.13},{"t":13,"z":5,"l":0.1155},{"t":12,"z":5,"l":0.1},{"t":11,"z":5,"l":0.0845},{"t":10,"z":5,"l":0.07},{"t":9,"z":5,"l":0.0576},{"t":8,"z":5,"l":0.048},{"t":7,"z":5,"l":0.042},{"t":6,"z":5,"l":0.04},{"t":5,"z":5,"l":0.042},{"t":4,"z":5,"l":0.048},{"t":3,"z":5,"l":0.0576},{"t":2,"z":5,"l":0.07},{"t":1,"z":5,"l":0.0845},{"t":0,"z":5,"l":0.1},
{"t":24,"z":4,"l":0.1},{"t":23,"z":4,"l":0.1124},{"t":22,"z":4,"l":0.124},{"t":21,"z":4,"l":0.1339},{"t":20,"z":4,"l":0.1416},{"t":19,"z":4,"l":0.1464},{"t":18,"z":4,"l":0.148},{"t":17,"z":4,"l":0.1464},{"t":16,"z":4,"l":0.1416},{"t":15,"z":4,"l":0.1339},{"t":14,"z":4,"l":0.124},{"t":13,"z":4,"l":0.1124},{"t":12,"z":4,"l":0.1},{"t":11,"z":4,"l":0.0876},{"t":10,"z":4,"l":0.076},{"t":9,"z":4,"l":0.0661},{"t":8,"z":4,"l":0.0584},{"t":7,"z":4,"l":0.0536},{"t":6,"z":4,"l":0.052},{"t":5,"z":4,"l":0.0536},{"t":4,"z":4,"l":0.0584},{"t":3,"z":4,"l":0.0661},{"t":2,"z":4,"l":0.076},{"t":1,"z":4,"l":0.0876},{"t":0,"z":4,"l":0.1},
{"t":24,"z":3,"l":0.1},{"t":23,"z":3,"l":0.1093},{"t":22,"z":3,"l":0.118},{"t":21,"z":3,"l":0.1255},{"t":20,"z":3,"l":0.1312},{"t":19,"z":3,"l":0.1348},{"t":18,"z":3,"l":0.136},{"t":17,"z":3,"l":0.1348},{"t":16,"z":3,"l":0.1312},{"t":15,"z":3,"l":0.1255},{"t":14,"z":3,"l":0.118},{"t":13,"z":3,"l":0.1093},{"t":12,"z":3,"l":0.1},{"t":11,"z":3,"l":0.0907},{"t":10,"z":3,"l":0.082},{"t":9,"z":3,"l":0.0745},{"t":8,"z":3,"l":0.0688},{"t":7,"z":3,"l":0.0652},{"t":6,"z":3,"l":0.064},{"t":5,"z":3,"l":0.0652},{"t":4,"z":3,"l":0.0688},{"t":3,"z":3,"l":0.0745},{"t":2,"z":3,"l":0.082},{"t":1,"z":3,"l":0.0907},{"t":0,"z":3,"l":0.1},
{"t":24,"z":2,"l":0.1},{"t":23,"z":2,"l":0.1062},{"t":22,"z":2,"l":0.112},{"t":21,"z":2,"l":0.117},{"t":20,"z":2,"l":0.1208},{"t":19,"z":2,"l":0.1232},{"t":18,"z":2,"l":0.124},{"t":17,"z":2,"l":0.1232},{"t":16,"z":2,"l":0.1208},{"t":15,"z":2,"l":0.117},{"t":14,"z":2,"l":0.112},{"t":13,"z":2,"l":0.1062},{"t":12,"z":2,"l":0.1},{"t":11,"z":2,"l":0.0938},{"t":10,"z":2,"l":0.088},{"t":9,"z":2,"l":0.083},{"t":8,"z":2,"l":0.0792},{"t":7,"z":2,"l":0.0768},{"t":6,"z":2,"l":0.076},{"t":5,"z":2,"l":0.0768},{"t":4,"z":2,"l":0.0792},{"t":3,"z":2,"l":0.083},{"t":2,"z":2,"l":0.088},{"t":1,"z":2,"l":0.0938},{"t":0,"z":2,"l":0.1},
{"t":24,"z":1,"l":0.1},{"t":23,"z":1,"l":0.1031},{"t":22,"z":1,"l":0.106},{"t":21,"z":1,"l":0.1085},{"t":20,"z":1,"l":0.1104},{"t":19,"z":1,"l":0.1116},{"t":18,"z":1,"l":0.112},{"t":17,"z":1,"l":0.1116},{"t":16,"z":1,"l":0.1104},{"t":15,"z":1,"l":0.1085},{"t":14,"z":1,"l":0.106},{"t":13,"z":1,"l":0.1031},{"t":12,"z":1,"l":0.1},{"t":11,"z":1,"l":0.0969},{"t":10,"z":1,"l":0.094},{"t":9,"z":1,"l":0.0915},{"t":8,"z":1,"l":0.0896},{"t":7,"z":1,"l":0.0884},{"t":6,"z":1,"l":0.088},{"t":5,"z":1,"l":0.0884},{"t":4,"z":1,"l":0.0896},{"t":3,"z":1,"l":0.0915},{"t":2,"z":1,"l":0.094},{"t":1,"z":1,"l":0.0969},{"t":0,"z":1,"l":0.1}],
"bw":[{"t":23.5,"z":10,"l":0.1870},{"t":23.5,"z":1,"l":0.1987},{"t":22.5,"z":10,"l":0.1617},{"t":22.5,"z":1,"l":0.1962},{"t":21.5,"z":10,"l":0.1391},{"t":21.5,"z":1,"l":0.1939},{"t":20.5,"z":10,"l":0.1207},{"t":20.5,"z":1,"l":0.1921},{"t":19.5,"z":10,"l":0.1076},{"t":19.5,"z":1,"l":0.1908},{"t":18.5,"z":10,"l":0.1009},{"t":18.5,"z":1,"l":0.1901},{"t":17.5,"z":10,"l":0.1009},{"t":17.5,"z":1,"l":0.1901},{"t":16.5,"z":10,"l":0.1076},{"t":16.5,"z":1,"l":0.1908},{"t":15.5,"z":10,"l":0.1207},{"t":15.5,"z":1,"l":0.1921},{"t":14.5,"z":10,"l":0.1391},{"t":14.5,"z":1,"l":0.1939},{"t":13.5,"z":10,"l":0.1617},{"t":13.5,"z":1,"l":0.1962},{"t":12.5,"z":10,"l":0.1870},{"t":12.5,"z":1,"l":0.1987},{"t":11.5,"z":10,"l":0.2131},{"t":11.5,"z":1,"l":0.2013},{"t":10.5,"z":10,"l":0.2383},{"t":10.5,"z":1,"l":0.2038},{"t":9.5,"z":10,"l":0.2609},{"t":9.5,"z":1,"l":0.2061},{"t":8.5,"z":10,"l":0.2793},{"t":8.5,"z":1,"l":0.2079},{"t":7.5,"z":10,"l":0.2924},{"t":7.5,"z":1,"l":0.2092},{"t":6.5,"z":10,"l":0.2991},{"t":6.5,"z":1,"l":0.2099},{"t":5.5,"z":10,"l":0.2991},{"t":5.5,"z":1,"l":0.2099},{"t":4.5,"z":10,"l":0.2924},{"t":4.5,"z":1,"l":0.2092},{"t":3.5,"z":10,"l":0.2793},{"t":3.5,"z":1,"l":0.2079},{"t":2.5,"z":10,"l":0.2609},{"t":2.5,"z":1,"l":0.2061},{"t":1.5,"z":10,"l":0.2383},{"t":1.5,"z":1,"l":0.2038},{"t":0.5,"z":10,"l":0.2131},{"t":0.5,"z":1,"l":0.2013}],
"gw":[{"t":23.5,"z":10,"l":0.1396},{"t":23.5,"z":1,"l":0.149},{"t":22.5,"z":10,"l":0.1194},{"t":22.5,"z":1,"l":0.1469},{"t":21.5,"z":10,"l":0.1013},{"t":21.5,"z":1,"l":0.1451},{"t":20.5,"z":10,"l":0.0865},{"t":20.5,"z":1,"l":0.1437},{"t":19.5,"z":10,"l":0.0761},{"t":19.5,"z":1,"l":0.1426},{"t":18.5,"z":10,"l":0.0707},{"t":18.5,"z":1,"l":0.1421},{"t":17.5,"z":10,"l":0.0707},{"t":17.5,"z":1,"l":0.1421},{"t":16.5,"z":10,"l":0.0761},{"t":16.5,"z":1,"l":0.1426},{"t":15.5,"z":10,"l":0.0865},{"t":15.5,"z":1,"l":0.1437},{"t":14.5,"z":10,"l":0.1013},{"t":14.5,"z":1,"l":0.1451},{"t":13.5,"z":10,"l":0.1194},{"t":13.5,"z":1,"l":0.1469},{"t":12.5,"z":10,"l":0.1396},{"t":12.5,"z":1,"l":0.149},{"t":11.5,"z":10,"l":0.1604},{"t":11.5,"z":1,"l":0.151},{"t":10.5,"z":10,"l":0.1806},{"t":10.5,"z":1,"l":0.1531},{"t":9.5,"z":10,"l":0.1987},{"t":9.5,"z":1,"l":0.1549},{"t":8.5,"z":10,"l":0.2135},{"t":8.5,"z":1,"l":0.1563},{"t":7.5,"z":10,"l":0.2239},{"t":7.5,"z":1,"l":0.1574},{"t":6.5,"z":10,"l":0.2293},{"t":6.5,"z":1,"l":0.1579},{"t":5.5,"z":10,"l":0.2293},{"t":5.5,"z":1,"l":0.1579},{"t":4.5,"z":10,"l":0.2239},{"t":4.5,"z":1,"l":0.1574},{"t":3.5,"z":10,"l":0.2135},{"t":3.5,"z":1,"l":0.1563},{"t":2.5,"z":10,"l":0.1987},{"t":2.5,"z":1,"l":0.1549},{"t":1.5,"z":10,"l":0.1806},{"t":1.5,"z":1,"l":0.1531},{"t":0.5,"z":10,"l":0.1604},{"t":0.5,"z":1,"l":0.151}],
"rw":[{"t":23.5,"z":10,"l":0.1157},{"t":23.5,"z":1,"l":0.1016},{"t":22.5,"z":10,"l":0.1459},{"t":22.5,"z":1,"l":0.1046},{"t":21.5,"z":10,"l":0.1731},{"t":21.5,"z":1,"l":0.1073},{"t":20.5,"z":10,"l":0.1952},{"t":20.5,"z":1,"l":0.1095},{"t":19.5,"z":10,"l":0.2109},{"t":19.5,"z":1,"l":0.1111},{"t":18.5,"z":10,"l":0.219},{"t":18.5,"z":1,"l":0.1119},{"t":17.5,"z":10,"l":0.219},{"t":17.5,"z":1,"l":0.1119},{"t":16.5,"z":10,"l":0.2109},{"t":16.5,"z":1,"l":0.1111},{"t":15.5,"z":10,"l":0.1952},{"t":15.5,"z":1,"l":0.1095},{"t":14.5,"z":10,"l":0.1731},{"t":14.5,"z":1,"l":0.1073},{"t":13.5,"z":10,"l":0.1459},{"t":13.5,"z":1,"l":0.1046},{"t":12.5,"z":10,"l":0.1157},{"t":12.5,"z":1,"l":0.1016},{"t":11.5,"z":10,"l":0.0843},{"t":11.5,"z":1,"l":0.0984},{"t":10.5,"z":10,"l":0.0541},{"t":10.5,"z":1,"l":0.0954},{"t":9.5,"z":10,"l":0.0269},{"t":9.5,"z":1,"l":0.0927},{"t":8.5,"z":10,"l":0.0048},{"t":8.5,"z":1,"l":0.0905},{"t":7.5,"z":10,"l":-0.0109},{"t":7.5,"z":1,"l":0.0889},{"t":6.5,"z":10,"l":-0.019},{"t":6.5,"z":1,"l":0.0881},{"t":5.5,"z":10,"l":-0.019},{"t":5.5,"z":1,"l":0.0881},{"t":4.5,"z":10,"l":-0.0109},{"t":4.5,"z":1,"l":0.0889},{"t":3.5,"z":10,"l":0.0048},{"t":3.5,"z":1,"l":0.0905},{"t":2.5,"z":10,"l":0.0269},{"t":2.5,"z":1,"l":0.0927},{"t":1.5,"z":10,"l":0.0541},{"t":1.5,"z":1,"l":0.0954},{"t":0.5,"z":10,"l":0.0843},{"t":0.5,"z":1,"l":0.0984}]
},
"encoding":{"x":{"field":"px","type":"quantitative","scale":{"domain":[0,1568],"nice":false,"zero":false},"axis":null},"y":{"field":"py","type":"quantitative","scale":{"domain":[1437,0],"nice":false,"zero":false},"axis":null}},
"layer":[
{"data":{"name":"panes"},"transform":[{"calculate":"0.0623+0.03636*datum.t","as":"u"},{"calculate":"-0.034+0.097*datum.z","as":"v"},{"calculate":"0.0812+2.99*datum.l","as":"w"},{"calculate":"1+0.07591*datum.u+0.10296*datum.v-0.046*datum.w","as":"d"},{"calculate":"(1000.78*datum.u-453.02*datum.v-39*datum.w+631.7)/datum.d","as":"px"},{"calculate":"(-207.97*datum.u-390.03*datum.v+(-725-10.5*datum.u-3.3*datum.v-13.1*datum.u*datum.v)*datum.w+1367.8)/datum.d","as":"py"}],
"mark":{"type":"line","stroke":"#ececec","strokeWidth":2},"encoding":{"detail":{"field":"p"},"order":{"field":"o"},"fill":{"field":"p","type":"nominal","scale":{"domain":["left","right","floor"],"range":["#f2f2f2","#f8f8f8","#f6f6f6"]},"legend":null}}},
{"data":{"name":"grid"},"transform":[{"calculate":"0.0623+0.03636*datum.t","as":"u"},{"calculate":"-0.034+0.097*datum.z","as":"v"},{"calculate":"0.0812+2.99*datum.l","as":"w"},{"calculate":"1+0.07591*datum.u+0.10296*datum.v-0.046*datum.w","as":"d"},{"calculate":"(1000.78*datum.u-453.02*datum.v-39*datum.w+631.7)/datum.d","as":"px"},{"calculate":"(-207.97*datum.u-390.03*datum.v+(-725-10.5*datum.u-3.3*datum.v-13.1*datum.u*datum.v)*datum.w+1367.8)/datum.d","as":"py"}],
"mark":{"type":"line","stroke":"#b8b8b8","strokeWidth":2,"strokeDash":[8,4]},"encoding":{"detail":{"field":"id"},"order":{"field":"o"}}},
{"data":{"name":"r"},"transform":[{"window":[{"op":"lead","field":"l","as":"lt"},{"op":"lead","field":"t","as":"tn"}],"groupby":["z"],"sort":[{"field":"t","order":"ascending"}]},{"window":[{"op":"lead","field":"l","as":"lz"},{"op":"lead","field":"lt","as":"ltz"},{"op":"lead","field":"z","as":"zn"}],"groupby":["t"],"sort":[{"field":"z","order":"ascending"}]},{"filter":"datum.tn!=null&&datum.zn!=null"},{"calculate":"(datum.l+datum.lt+datum.lz+datum.ltz)/4","as":"m"},{"calculate":"(datum.m+0.02)/0.24","as":"n"},{"calculate":"datum.t+'_'+datum.z","as":"id"},{"calculate":"[0,1,2,3,4]","as":"c"},{"flatten":["c"]},{"calculate":"datum.c==1||datum.c==2?datum.tn:datum.t","as":"tc"},{"calculate":"datum.c==2||datum.c==3?datum.zn:datum.z","as":"zc"},{"calculate":"datum.c==1?datum.lt:datum.c==2?datum.ltz:datum.c==3?datum.lz:datum.l","as":"lc"},{"calculate":"0.0623+0.03636*datum.tc","as":"u"},{"calculate":"-0.034+0.097*datum.zc","as":"v"},{"calculate":"0.0812+2.99*datum.lc","as":"w"},{"calculate":"1+0.07591*datum.u+0.10296*datum.v-0.046*datum.w","as":"d"},{"calculate":"(1000.78*datum.u-453.02*datum.v-39*datum.w+631.7)/datum.d","as":"px"},{"calculate":"(-207.97*datum.u-390.03*datum.v+(-725-10.5*datum.u-3.3*datum.v-13.1*datum.u*datum.v)*datum.w+1367.8)/datum.d","as":"py"}],
"mark":{"type":"line","stroke":"#000","strokeWidth":1.3,"strokeOpacity":0.42,"fillOpacity":0.8},"encoding":{"detail":{"field":"id"},"order":{"field":"c"},"fill":{"field":"n","type":"quantitative","scale":{"domain":[0,0.125,0.25,0.375,0.5,0.625,0.75,0.875,1],"range":["#fff5eb","#fee6ce","#fdd0a2","#fdae6b","#fd8d3c","#f16913","#d94801","#a63603","#7f2704"]},"legend":null}}},
{"data":{"name":"rw"},"transform":[{"calculate":"0.0623+0.03636*datum.t","as":"u"},{"calculate":"-0.034+0.097*datum.z","as":"v"},{"calculate":"0.0812+2.99*datum.l","as":"w"},{"calculate":"1+0.07591*datum.u+0.10296*datum.v-0.046*datum.w","as":"d"},{"calculate":"(1000.78*datum.u-453.02*datum.v-39*datum.w+631.7)/datum.d","as":"px"},{"calculate":"(-207.97*datum.u-390.03*datum.v+(-725-10.5*datum.u-3.3*datum.v-13.1*datum.u*datum.v)*datum.w+1367.8)/datum.d","as":"py"}],
"mark":{"type":"line","stroke":"#000","strokeWidth":1.3,"strokeOpacity":0.5},"encoding":{"detail":{"field":"t"},"order":{"field":"z"}}},
{"data":{"name":"g"},"transform":[{"window":[{"op":"lead","field":"l","as":"lt"},{"op":"lead","field":"t","as":"tn"}],"groupby":["z"],"sort":[{"field":"t","order":"ascending"}]},{"window":[{"op":"lead","field":"l","as":"lz"},{"op":"lead","field":"lt","as":"ltz"},{"op":"lead","field":"z","as":"zn"}],"groupby":["t"],"sort":[{"field":"z","order":"ascending"}]},{"filter":"datum.tn!=null&&datum.zn!=null"},{"calculate":"(datum.l+datum.lt+datum.lz+datum.ltz)/4","as":"m"},{"calculate":"(datum.m-0.07)/0.16","as":"n"},{"calculate":"datum.t+'_'+datum.z","as":"id"},{"calculate":"[0,1,2,3,4]","as":"c"},{"flatten":["c"]},{"calculate":"datum.c==1||datum.c==2?datum.tn:datum.t","as":"tc"},{"calculate":"datum.c==2||datum.c==3?datum.zn:datum.z","as":"zc"},{"calculate":"datum.c==1?datum.lt:datum.c==2?datum.ltz:datum.c==3?datum.lz:datum.l","as":"lc"},{"calculate":"0.0623+0.03636*datum.tc","as":"u"},{"calculate":"-0.034+0.097*datum.zc","as":"v"},{"calculate":"0.0812+2.99*datum.lc","as":"w"},{"calculate":"1+0.07591*datum.u+0.10296*datum.v-0.046*datum.w","as":"d"},{"calculate":"(1000.78*datum.u-453.02*datum.v-39*datum.w+631.7)/datum.d","as":"px"},{"calculate":"(-207.97*datum.u-390.03*datum.v+(-725-10.5*datum.u-3.3*datum.v-13.1*datum.u*datum.v)*datum.w+1367.8)/datum.d","as":"py"}],
"mark":{"type":"line","stroke":"#000","strokeWidth":1.3,"strokeOpacity":0.42,"fillOpacity":0.8},"encoding":{"detail":{"field":"id"},"order":{"field":"c"},"fill":{"field":"n","type":"quantitative","scale":{"domain":[0,0.125,0.25,0.375,0.5,0.625,0.75,0.875,1],"range":["#f7fcf5","#e5f5e0","#c7e9c0","#a1d99b","#74c476","#41ab5d","#238b45","#006d2c","#00441b"]},"legend":null}}},
{"data":{"name":"gw"},"transform":[{"calculate":"0.0623+0.03636*datum.t","as":"u"},{"calculate":"-0.034+0.097*datum.z","as":"v"},{"calculate":"0.0812+2.99*datum.l","as":"w"},{"calculate":"1+0.07591*datum.u+0.10296*datum.v-0.046*datum.w","as":"d"},{"calculate":"(1000.78*datum.u-453.02*datum.v-39*datum.w+631.7)/datum.d","as":"px"},{"calculate":"(-207.97*datum.u-390.03*datum.v+(-725-10.5*datum.u-3.3*datum.v-13.1*datum.u*datum.v)*datum.w+1367.8)/datum.d","as":"py"}],
"mark":{"type":"line","stroke":"#000","strokeWidth":1.3,"strokeOpacity":0.5},"encoding":{"detail":{"field":"t"},"order":{"field":"z"}}},
{"data":{"name":"b"},"transform":[{"window":[{"op":"lead","field":"l","as":"lt"},{"op":"lead","field":"t","as":"tn"}],"groupby":["z"],"sort":[{"field":"t","order":"ascending"}]},{"window":[{"op":"lead","field":"l","as":"lz"},{"op":"lead","field":"lt","as":"ltz"},{"op":"lead","field":"z","as":"zn"}],"groupby":["t"],"sort":[{"field":"z","order":"ascending"}]},{"filter":"datum.tn!=null&&datum.zn!=null"},{"calculate":"(datum.l+datum.lt+datum.lz+datum.ltz)/4","as":"m"},{"calculate":"(datum.m-0.1)/0.2","as":"n"},{"calculate":"datum.t+'_'+datum.z","as":"id"},{"calculate":"[0,1,2,3,4]","as":"c"},{"flatten":["c"]},{"calculate":"datum.c==1||datum.c==2?datum.tn:datum.t","as":"tc"},{"calculate":"datum.c==2||datum.c==3?datum.zn:datum.z","as":"zc"},{"calculate":"datum.c==1?datum.lt:datum.c==2?datum.ltz:datum.c==3?datum.lz:datum.l","as":"lc"},{"calculate":"0.0623+0.03636*datum.tc","as":"u"},{"calculate":"-0.034+0.097*datum.zc","as":"v"},{"calculate":"0.0812+2.99*datum.lc","as":"w"},{"calculate":"1+0.07591*datum.u+0.10296*datum.v-0.046*datum.w","as":"d"},{"calculate":"(1000.78*datum.u-453.02*datum.v-39*datum.w+631.7)/datum.d","as":"px"},{"calculate":"(-207.97*datum.u-390.03*datum.v+(-725-10.5*datum.u-3.3*datum.v-13.1*datum.u*datum.v)*datum.w+1367.8)/datum.d","as":"py"}],
"mark":{"type":"line","stroke":"#000","strokeWidth":1.3,"strokeOpacity":0.42,"fillOpacity":0.8},"encoding":{"detail":{"field":"id"},"order":{"field":"c"},"fill":{"field":"n","type":"quantitative","scale":{"domain":[0,0.125,0.25,0.375,0.5,0.625,0.75,0.875,1],"range":["#f7fbff","#deebf7","#c6dbef","#9ecae1","#6baed6","#4292c6","#2171b5","#08519c","#08306b"]},"legend":null}}},
{"data":{"name":"bw"},"transform":[{"calculate":"0.0623+0.03636*datum.t","as":"u"},{"calculate":"-0.034+0.097*datum.z","as":"v"},{"calculate":"0.0812+2.99*datum.l","as":"w"},{"calculate":"1+0.07591*datum.u+0.10296*datum.v-0.046*datum.w","as":"d"},{"calculate":"(1000.78*datum.u-453.02*datum.v-39*datum.w+631.7)/datum.d","as":"px"},{"calculate":"(-207.97*datum.u-390.03*datum.v+(-725-10.5*datum.u-3.3*datum.v-13.1*datum.u*datum.v)*datum.w+1367.8)/datum.d","as":"py"}],
"mark":{"type":"line","stroke":"#000","strokeWidth":1.3,"strokeOpacity":0.5},"encoding":{"detail":{"field":"t"},"order":{"field":"z"}}},
{"data":{"name":"spines"},"transform":[{"calculate":"0.0623+0.03636*datum.t","as":"u"},{"calculate":"-0.034+0.097*datum.z","as":"v"},{"calculate":"0.0812+2.99*datum.l","as":"w"},{"calculate":"1+0.07591*datum.u+0.10296*datum.v-0.046*datum.w","as":"d"},{"calculate":"(1000.78*datum.u-453.02*datum.v-39*datum.w+631.7)/datum.d","as":"px"},{"calculate":"(-207.97*datum.u-390.03*datum.v+(-725-10.5*datum.u-3.3*datum.v-13.1*datum.u*datum.v)*datum.w+1367.8)/datum.d","as":"py"}],
"mark":{"type":"line","stroke":"#1a1a1a","strokeWidth":3.4},"encoding":{"detail":{"field":"id"},"order":{"field":"o"}}},
{"data":{"name":"tl"},"transform":[{"filter":"datum.a=='t'"},{"calculate":"0.0623+0.03636*datum.t","as":"u"},{"calculate":"-0.034+0.097*datum.z","as":"v"},{"calculate":"0.0812+2.99*datum.l","as":"w"},{"calculate":"1+0.07591*datum.u+0.10296*datum.v-0.046*datum.w","as":"d"},{"calculate":"(1000.78*datum.u-453.02*datum.v-39*datum.w+631.7)/datum.d","as":"px"},{"calculate":"(-207.97*datum.u-390.03*datum.v+(-725-10.5*datum.u-3.3*datum.v-13.1*datum.u*datum.v)*datum.w+1367.8)/datum.d","as":"py"}],
"mark":{"type":"text","font":"DejaVu Sans","fontSize":52,"fill":"#262626","dx":35,"dy":97,"align":"center","baseline":"middle"},"encoding":{"text":{"field":"s"}}},
{"data":{"name":"tl"},"transform":[{"filter":"datum.a=='z'"},{"calculate":"0.0623+0.03636*datum.t","as":"u"},{"calculate":"-0.034+0.097*datum.z","as":"v"},{"calculate":"0.0812+2.99*datum.l","as":"w"},{"calculate":"1+0.07591*datum.u+0.10296*datum.v-0.046*datum.w","as":"d"},{"calculate":"(1000.78*datum.u-453.02*datum.v-39*datum.w+631.7)/datum.d","as":"px"},{"calculate":"(-207.97*datum.u-390.03*datum.v+(-725-10.5*datum.u-3.3*datum.v-13.1*datum.u*datum.v)*datum.w+1367.8)/datum.d","as":"py"}],
"mark":{"type":"text","font":"DejaVu Sans","fontSize":52,"fill":"#262626","dx":-57,"dy":82,"align":"center","baseline":"middle"},"encoding":{"text":{"field":"s"}}},
{"data":{"name":"tl"},"transform":[{"filter":"datum.a=='l'"},{"calculate":"0.0623+0.03636*datum.t","as":"u"},{"calculate":"-0.034+0.097*datum.z","as":"v"},{"calculate":"0.0812+2.99*datum.l","as":"w"},{"calculate":"1+0.07591*datum.u+0.10296*datum.v-0.046*datum.w","as":"d"},{"calculate":"(1000.78*datum.u-453.02*datum.v-39*datum.w+631.7)/datum.d","as":"px"},{"calculate":"(-207.97*datum.u-390.03*datum.v+(-725-10.5*datum.u-3.3*datum.v-13.1*datum.u*datum.v)*datum.w+1367.8)/datum.d","as":"py"}],
"mark":{"type":"text","font":"DejaVu Sans","fontSize":52,"fill":"#262626","dx":-84,"dy":12,"align":"center","baseline":"middle"},"encoding":{"text":{"field":"s"}}},
{"data":{"name":"tl"},"transform":[{"filter":"datum.a=='T'"},{"calculate":"0.0623+0.03636*datum.t","as":"u"},{"calculate":"-0.034+0.097*datum.z","as":"v"},{"calculate":"0.0812+2.99*datum.l","as":"w"},{"calculate":"1+0.07591*datum.u+0.10296*datum.v-0.046*datum.w","as":"d"},{"calculate":"(1000.78*datum.u-453.02*datum.v-39*datum.w+631.7)/datum.d","as":"px"},{"calculate":"(-207.97*datum.u-390.03*datum.v+(-725-10.5*datum.u-3.3*datum.v-13.1*datum.u*datum.v)*datum.w+1367.8)/datum.d","as":"py"}],
"mark":{"type":"text","font":"DejaVu Sans","fontSize":55,"fill":"#262626","angle":340,"dx":-21,"dy":178,"align":"center","baseline":"middle"},"encoding":{"text":{"field":"s"}}},
{"data":{"name":"tl"},"transform":[{"filter":"datum.a=='Z'"},{"calculate":"0.0623+0.03636*datum.t","as":"u"},{"calculate":"-0.034+0.097*datum.z","as":"v"},{"calculate":"0.0812+2.99*datum.l","as":"w"},{"calculate":"1+0.07591*datum.u+0.10296*datum.v-0.046*datum.w","as":"d"},{"calculate":"(1000.78*datum.u-453.02*datum.v-39*datum.w+631.7)/datum.d","as":"px"},{"calculate":"(-207.97*datum.u-390.03*datum.v+(-725-10.5*datum.u-3.3*datum.v-13.1*datum.u*datum.v)*datum.w+1367.8)/datum.d","as":"py"}],
"mark":{"type":"text","font":"DejaVu Sans","fontSize":55,"fill":"#262626","angle":46,"dx":58,"dy":178,"align":"center","baseline":"middle"},"encoding":{"text":{"field":"s"}}},
{"data":{"name":"tl"},"transform":[{"filter":"datum.a=='L'"},{"calculate":"0.0623+0.03636*datum.t","as":"u"},{"calculate":"-0.034+0.097*datum.z","as":"v"},{"calculate":"0.0812+2.99*datum.l","as":"w"},{"calculate":"1+0.07591*datum.u+0.10296*datum.v-0.046*datum.w","as":"d"},{"calculate":"(1000.78*datum.u-453.02*datum.v-39*datum.w+631.7)/datum.d","as":"px"},{"calculate":"(-207.97*datum.u-390.03*datum.v+(-725-10.5*datum.u-3.3*datum.v-13.1*datum.u*datum.v)*datum.w+1367.8)/datum.d","as":"py"}],
"mark":{"type":"text","font":"DejaVu Sans","fontSize":55,"fill":"#262626","angle":87,"dx":-80,"dy":184,"align":"center","baseline":"middle"},"encoding":{"text":{"field":"s"}}}
],
"resolve":{"scale":{"fill":"independent"}}}
